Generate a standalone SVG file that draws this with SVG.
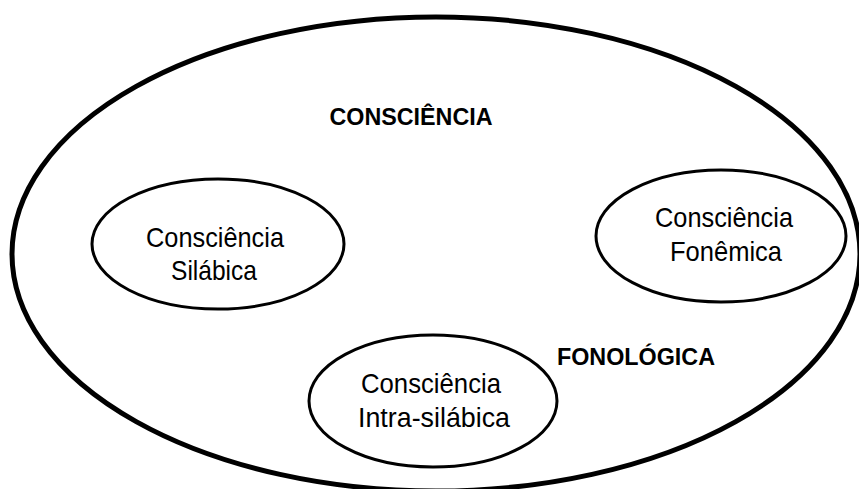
<svg xmlns="http://www.w3.org/2000/svg" width="859" height="489" viewBox="0 0 859 489">
<style>
.big{fill:none;stroke:#000;stroke-width:5}
.node{fill:none;stroke:#000;stroke-width:3}
.t{font-family:"Liberation Sans",Arial,sans-serif;font-size:27.5px;fill:#000;text-anchor:middle}
.b{font-family:"Liberation Sans",Arial,sans-serif;font-size:23.5px;font-weight:bold;fill:#000;text-anchor:middle}
</style>
<rect width="859" height="489" fill="#fff"/>
<g id="outer">
<ellipse class="big" cx="436" cy="254" rx="424" ry="237"/>
<text class="b" x="411" y="125" textLength="163" lengthAdjust="spacingAndGlyphs">CONSCIÊNCIA</text>
<text class="b" x="636" y="365" textLength="158" lengthAdjust="spacingAndGlyphs">FONOLÓGICA</text>
</g>
<g id="silabica">
<ellipse class="node" cx="218" cy="244" rx="126" ry="65"/>
<text class="t" x="215" y="247" textLength="138" lengthAdjust="spacingAndGlyphs">Consciência</text>
<text class="t" x="214" y="280" textLength="86" lengthAdjust="spacingAndGlyphs">Silábica</text>
</g>
<g id="fonemica">
<ellipse class="node" cx="721" cy="236" rx="125" ry="66"/>
<text class="t" x="724" y="227" textLength="138" lengthAdjust="spacingAndGlyphs">Consciência</text>
<text class="t" x="726" y="261" textLength="112" lengthAdjust="spacingAndGlyphs">Fonêmica</text>
</g>
<g id="intrasilabica">
<ellipse class="node" cx="433" cy="401" rx="124" ry="66"/>
<text class="t" x="431" y="393" textLength="140" lengthAdjust="spacingAndGlyphs">Consciência</text>
<text class="t" x="434" y="427" textLength="152" lengthAdjust="spacingAndGlyphs">Intra-silábica</text>
</g>
<g id="connectors"></g>
</svg>
